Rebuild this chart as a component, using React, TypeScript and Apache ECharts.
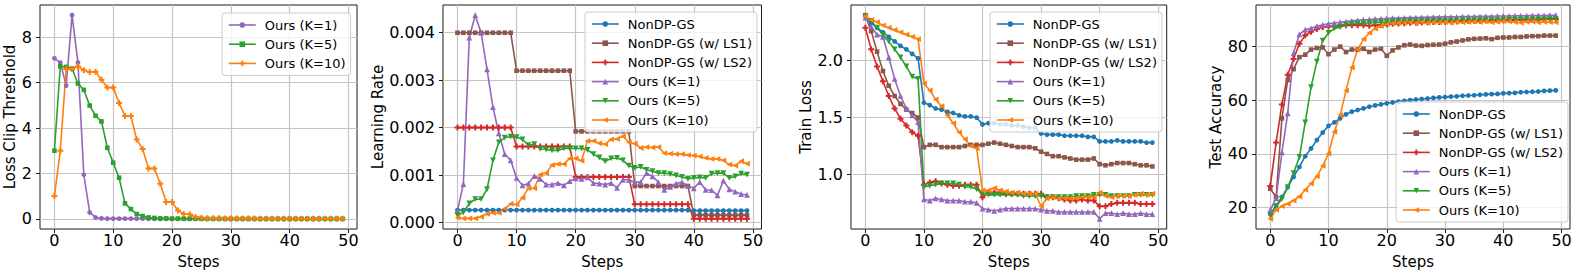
import { useEffect, useRef } from 'react';
import * as echarts from 'echarts';

// ---------- data ----------
const steps = Array.from({ length: 50 }, (_, i) => i);
const xTicks = [0, 10, 20, 30, 40, 50];

// Panel 1: Loss Clip Threshold
const p1K1 = [7.07, 6.88, 5.87, 8.97, 6.88, 1.94, 0.28, 0.06, 0.02, 0.01,
  0.01, 0.01, 0.01, 0.01, 0.01, 0.01, 0, 0, 0, 0,
  0, 0, 0, 0, 0, 0, 0, 0, 0, 0,
  0, 0, 0, 0, 0, 0, 0, 0, 0, 0,
  0, 0, 0, 0, 0, 0, 0, 0, 0, 0];
const p1K5 = [3.0, 6.72, 6.69, 6.62, 5.96, 5.68, 4.99, 4.54, 4.29, 3.13,
  2.47, 1.81, 0.68, 0.43, 0.21, 0.12, 0.06, 0.04, 0.02, 0.02,
  0.01, 0.01, 0.01, 0.01, 0.01, 0, 0, 0, 0, 0,
  0, 0, 0, 0, 0, 0, 0, 0, 0, 0,
  0, 0, 0, 0, 0, 0, 0, 0, 0, 0];
const p1K10 = [1.0, 3.0, 6.6, 6.6, 6.72, 6.54, 6.47, 6.48, 6.13, 5.78,
  5.78, 5.1, 4.53, 4.53, 3.49, 3.07, 2.22, 2.22, 1.54, 0.74,
  0.74, 0.37, 0.21, 0.2, 0.08, 0.05, 0.03, 0.02, 0.02, 0.01,
  0.01, 0.01, 0.01, 0.01, 0.01, 0, 0, 0, 0, 0,
  0, 0, 0, 0, 0, 0, 0, 0, 0, 0];
const p1YTicks = [0, 2, 4, 6, 8];

// Panel 2: Learning Rate
const p2Base = [0.00026, 0.00026, 0.00026, 0.00026, 0.00026, 0.00026, 0.00026, 0.00026, 0.00026, 0.00026,
  0.00026, 0.00026, 0.00026, 0.00026, 0.00026, 0.00026, 0.00026, 0.00026, 0.00026, 0.00026,
  0.00026, 0.00026, 0.00026, 0.00026, 0.00026, 0.00026, 0.00026, 0.00026, 0.00026, 0.00026,
  0.00026, 0.00026, 0.00026, 0.00026, 0.00026, 0.00026, 0.00026, 0.00026, 0.00026, 0.00026,
  0.00025, 0.00025, 0.00025, 0.00025, 0.00025, 0.00025, 0.00025, 0.00025, 0.00025, 0.00025];
const p2LS1 = [0.004, 0.004, 0.004, 0.004, 0.004, 0.004, 0.004, 0.004, 0.004, 0.004,
  0.0032, 0.0032, 0.0032, 0.0032, 0.0032, 0.0032, 0.0032, 0.0032, 0.0032, 0.0032,
  0.00192, 0.00192, 0.00192, 0.00192, 0.00192, 0.00192, 0.00192, 0.00192, 0.00192, 0.00192,
  0.000768, 0.000768, 0.000768, 0.000768, 0.000768, 0.000768, 0.000768, 0.000768, 0.000768, 0.000768,
  0.000154, 0.000154, 0.000154, 0.000154, 0.000154, 0.000154, 0.000154, 0.000154, 0.000154, 0.000154];
const p2LS2 = [0.002, 0.002, 0.002, 0.002, 0.002, 0.002, 0.002, 0.002, 0.002, 0.002,
  0.0016, 0.0016, 0.0016, 0.0016, 0.0016, 0.0016, 0.0016, 0.0016, 0.0016, 0.0016,
  0.00096, 0.00096, 0.00096, 0.00096, 0.00096, 0.00096, 0.00096, 0.00096, 0.00096, 0.00096,
  0.000384, 0.000384, 0.000384, 0.000384, 0.000384, 0.000384, 0.000384, 0.000384, 0.000384, 0.000384,
  0.000077, 0.000077, 0.000077, 0.000077, 0.000077, 0.000077, 0.000077, 0.000077, 0.000077, 0.000077];
const p2K1 = [0.00025, 0.00081, 0.0039, 0.00437, 0.004, 0.00323, 0.00243, 0.00188, 0.00144, 0.00131,
  0.00094, 0.00078, 0.00082, 0.00098, 0.00092, 0.0008, 0.0008, 0.00083, 0.00078, 0.00087,
  0.00093, 0.00092, 0.00095, 0.00083, 0.00082, 0.0008, 0.00083, 0.00073, 0.0009, 0.0009,
  0.00085, 0.00085, 0.00104, 0.00097, 0.00085, 0.00069, 0.00075, 0.00082, 0.00085, 0.00077,
  0.00072, 0.00085, 0.00069, 0.00068, 0.00057, 0.00088, 0.0007, 0.00065, 0.0006, 0.00058];
const p2K5 = [0.000155, 0.00021, 0.0004, 0.00049, 0.00049, 0.0007, 0.00131, 0.00169, 0.00179, 0.00181,
  0.0018, 0.00175, 0.00163, 0.00165, 0.00155, 0.00154, 0.00152, 0.00152, 0.00156, 0.00156,
  0.00156, 0.00156, 0.00153, 0.00144, 0.00137, 0.00129, 0.00135, 0.00136, 0.00131, 0.0012,
  0.00115, 0.00117, 0.00111, 0.00108, 0.00104, 0.00104, 0.00102, 0.00099, 0.00096, 0.00092,
  0.00094, 0.00095, 0.00094, 0.00103, 0.00104, 0.00104, 0.00094, 0.00097, 0.00103, 0.00101];
const p2K10 = [0.0001, 0.000085, 0.000085, 0.000085, 0.00012, 0.00018, 0.0002, 0.0002, 0.00029, 0.00039,
  0.00038, 0.00052, 0.00072, 0.00072, 0.00101, 0.00104, 0.00121, 0.00123, 0.00123, 0.00135,
  0.00135, 0.0013, 0.00172, 0.00172, 0.00167, 0.00165, 0.00175, 0.00176, 0.00182, 0.00169,
  0.00166, 0.00157, 0.00159, 0.00158, 0.00159, 0.00146, 0.00145, 0.00144, 0.00144, 0.00142,
  0.00141, 0.00139, 0.00136, 0.00134, 0.00134, 0.00131, 0.00122, 0.0012, 0.00129, 0.00124];
const p2YTicks = [0, 0.001, 0.002, 0.003, 0.004];

// Panel 3: Train Loss
const p3Base = [2.4, 2.33, 2.29, 2.25, 2.21, 2.17, 2.13, 2.1, 2.06, 2.02,
  1.63, 1.61, 1.58, 1.57, 1.55, 1.54, 1.52, 1.51, 1.51, 1.5,
  1.44, 1.45, 1.45, 1.44, 1.44, 1.43, 1.43, 1.42, 1.41, 1.41,
  1.36, 1.35, 1.35, 1.35, 1.34, 1.34, 1.34, 1.34, 1.33, 1.33,
  1.29, 1.29, 1.29, 1.3, 1.29, 1.29, 1.29, 1.29, 1.28, 1.28];
const p3LS1 = [2.4, 2.26, 2.08, 1.91, 1.78, 1.69, 1.62, 1.57, 1.54, 1.5,
  1.24, 1.26, 1.26, 1.24, 1.24, 1.24, 1.24, 1.25, 1.26, 1.26,
  1.26, 1.27, 1.28, 1.27, 1.26, 1.25, 1.24, 1.24, 1.24, 1.23,
  1.2, 1.18, 1.16, 1.16, 1.15, 1.14, 1.13, 1.13, 1.13, 1.14,
  1.09, 1.08, 1.09, 1.1, 1.1, 1.1, 1.09, 1.08, 1.08, 1.07];
const p3LS2 = [2.29, 2.1, 1.95, 1.82, 1.69, 1.58, 1.49, 1.43, 1.37, 1.34,
  0.91, 0.93, 0.94, 0.92, 0.91, 0.9, 0.9, 0.91, 0.91, 0.91,
  0.8, 0.84, 0.84, 0.84, 0.83, 0.83, 0.83, 0.83, 0.83, 0.83,
  0.83, 0.8, 0.8, 0.79, 0.78, 0.77, 0.77, 0.78, 0.77, 0.77,
  0.72, 0.72, 0.74, 0.75, 0.75, 0.75, 0.75, 0.74, 0.74, 0.74];
const p3K1 = [2.38, 2.3, 2.23, 2.21, 2.03, 1.84, 1.69, 1.58, 1.52, 1.46,
  0.78, 0.77, 0.79, 0.78, 0.77, 0.77, 0.77, 0.76, 0.76, 0.75,
  0.7, 0.69, 0.68, 0.69, 0.7, 0.7, 0.7, 0.7, 0.7, 0.7,
  0.69, 0.68, 0.68, 0.67, 0.67, 0.67, 0.67, 0.67, 0.67, 0.67,
  0.61, 0.66, 0.66, 0.65, 0.66, 0.65, 0.65, 0.66, 0.65, 0.65];
const p3K5 = [2.39, 2.35, 2.29, 2.23, 2.17, 2.1, 2.03, 1.95, 1.86, 1.84,
  0.89, 0.9, 0.91, 0.92, 0.92, 0.92, 0.91, 0.89, 0.89, 0.87,
  0.83, 0.82, 0.82, 0.82, 0.82, 0.82, 0.82, 0.81, 0.81, 0.81,
  0.81, 0.8, 0.8, 0.8, 0.8, 0.8, 0.81, 0.81, 0.81, 0.82,
  0.82, 0.82, 0.81, 0.81, 0.81, 0.81, 0.82, 0.82, 0.82, 0.82];
const p3K10 = [2.39, 2.36, 2.34, 2.31, 2.29, 2.27, 2.25, 2.23, 2.21, 2.19,
  1.8, 1.74, 1.66, 1.6, 1.52, 1.45, 1.37, 1.31, 1.25, 1.23,
  0.86, 0.86, 0.88, 0.86, 0.85, 0.84, 0.84, 0.83, 0.83, 0.83,
  0.72, 0.79, 0.8, 0.79, 0.79, 0.79, 0.79, 0.8, 0.8, 0.8,
  0.84, 0.81, 0.8, 0.81, 0.81, 0.81, 0.82, 0.83, 0.82, 0.83];
const p3YTicks = [1.0, 1.5, 2.0];

// Panel 4: Test Accuracy
const p4Base = [17.6, 20.7, 23.9, 27.6, 31.4, 35.1, 39.1, 42.0, 45.1, 47.9,
  50.4, 51.7, 53.2, 54.7, 55.7, 56.3, 56.9, 57.5, 58.0, 58.4,
  58.8, 59.1, 59.4, 59.7, 60.0, 60.2, 60.4, 60.6, 60.8, 61.0,
  61.1, 61.3, 61.4, 61.6, 61.7, 61.8, 62.0, 62.1, 62.2, 62.3,
  62.5, 62.6, 62.7, 62.9, 63.0, 63.1, 63.2, 63.4, 63.5, 63.6];
const p4LS1 = [27.0, 23.9, 53.2, 67.5, 71.5, 76.0, 76.9, 78.8, 79.4, 79.6,
  77.1, 78.8, 79.9, 77.9, 78.8, 78.8, 79.1, 77.9, 78.8, 79.1,
  76.5, 78.5, 79.6, 80.4, 80.7, 80.3, 80.2, 80.5, 80.6, 80.7,
  81.0, 81.5, 81.8, 82.2, 82.6, 82.8, 82.9, 83.0, 82.7, 83.2,
  83.3, 83.3, 83.5, 83.5, 83.7, 83.8, 83.8, 84.0, 84.0, 84.0];
const p4LS2 = [28.0, 44.2, 58.4, 69.4, 75.3, 81.0, 84.1, 85.4, 86.5, 87.1,
  87.4, 87.5, 87.7, 87.9, 87.9, 87.9, 87.9, 87.7, 87.9, 88.0,
  88.2, 88.4, 88.5, 88.6, 88.8, 88.8, 88.9, 89.0, 89.1, 89.1,
  89.2, 89.3, 89.3, 89.4, 89.4, 89.5, 89.5, 89.6, 89.6, 89.7,
  89.7, 89.8, 89.8, 89.9, 89.9, 90.0, 90.0, 90.1, 90.2, 90.2];
const p4K1 = [19.1, 23.5, 40.5, 55.1, 77.5, 84.5, 86.2, 86.7, 87.5, 88.0,
  88.4, 88.7, 89.0, 89.2, 89.5, 89.7, 89.9, 90.0, 90.2, 90.3,
  90.4, 90.5, 90.5, 90.6, 90.7, 90.7, 90.8, 90.8, 90.9, 90.9,
  91.0, 91.0, 91.0, 91.1, 91.1, 91.1, 91.2, 91.2, 91.2, 91.3,
  91.3, 91.3, 91.4, 91.4, 91.4, 91.5, 91.5, 91.5, 91.6, 91.6];
const p4K5 = [17.0, 20.4, 23.2, 27.6, 32.8, 38.8, 51.7, 64.8, 74.3, 82.1,
  85.0, 86.7, 87.2, 88.0, 88.4, 88.5, 88.6, 88.7, 88.8, 88.9,
  89.0, 89.1, 89.2, 89.3, 89.3, 89.4, 89.4, 89.5, 89.5, 89.5,
  89.6, 89.6, 89.6, 89.7, 89.7, 89.7, 89.8, 89.8, 89.8, 89.8,
  89.9, 89.9, 89.9, 89.9, 90.0, 90.0, 90.0, 90.0, 90.1, 90.1];
const p4K10 = [15.8, 19.1, 20.5, 21.4, 22.6, 24.1, 26.6, 28.9, 31.6, 35.5,
  40.1, 48.2, 54.4, 63.5, 72.1, 78.8, 82.7, 85.0, 86.6, 87.6,
  88.2, 88.5, 88.7, 88.8, 88.9, 88.6, 89.1, 88.8, 89.0, 88.9,
  89.0, 88.8, 89.1, 88.9, 89.0, 89.2, 89.0, 89.3, 88.9, 89.1,
  89.4, 89.3, 89.0, 88.8, 89.1, 89.2, 88.9, 89.1, 89.0, 88.9];
const p4YTicks = [20, 40, 60, 80];

// ---------- styling ----------
const FONT = "'DejaVu Sans'";
const C = {
  blue: '#1f77b4', orange: '#ff7f0e', green: '#2ca02c',
  red: '#d62728', purple: '#9467bd', brown: '#8c564b',
};
const PLUS = 'path://M-1,-3H1V-1H3V1H1V3H-1V1H-3V-1H-1Z';
const SYM = {
  circle: { symbol: 'circle', size: 4.8, rotate: 0 },
  square: { symbol: 'rect', size: 4.6, rotate: 0 },
  plus: { symbol: PLUS, size: 6, rotate: 0 },
  up: { symbol: 'triangle', size: 5.8, rotate: 0 },
  down: { symbol: 'triangle', size: 5.8, rotate: 180 },
  left: { symbol: 'triangle', size: 5.8, rotate: 90 },
};

const grids = [
  { left: 40, top: 5, width: 317, height: 224 },
  { left: 443, top: 5, width: 318.5, height: 224 },
  { left: 851, top: 5, width: 315.7, height: 224 },
  { left: 1256, top: 5, width: 314, height: 224 },
];

type Panel = {
  yName: string; yMin: number; yMax: number; yTicks: number[];
  fmt: (v: number) => string; nameGap: number;
  legend: { left: number; top: number };
  lines: { name: string; data: number[]; color: string; sym: keyof typeof SYM }[];
};

const panels: Panel[] = [
  {
    yName: 'Loss Clip Threshold', yMin: -0.4485, yMax: 9.4185, yTicks: p1YTicks,
    fmt: (v) => String(v), nameGap: 21, legend: { left: 222, top: 13 },
    lines: [
      { name: 'p1|Ours (K=1)', data: p1K1, color: C.purple, sym: 'circle' },
      { name: 'p1|Ours (K=5)', data: p1K5, color: C.green, sym: 'square' },
      { name: 'p1|Ours (K=10)', data: p1K10, color: C.orange, sym: 'plus' },
    ],
  },
  {
    yName: 'Learning Rate', yMin: -0.000138, yMax: 0.004585, yTicks: p2YTicks,
    fmt: (v) => v.toFixed(3), nameGap: 52, legend: { left: 585, top: 12 },
    lines: [
      { name: 'p2|NonDP-GS', data: p2Base, color: C.blue, sym: 'circle' },
      { name: 'p2|NonDP-GS (w/ LS1)', data: p2LS1, color: C.brown, sym: 'square' },
      { name: 'p2|NonDP-GS (w/ LS2)', data: p2LS2, color: C.red, sym: 'plus' },
      { name: 'p2|Ours (K=1)', data: p2K1, color: C.purple, sym: 'up' },
      { name: 'p2|Ours (K=5)', data: p2K5, color: C.green, sym: 'down' },
      { name: 'p2|Ours (K=10)', data: p2K10, color: C.orange, sym: 'left' },
    ],
  },
  {
    yName: 'Train Loss', yMin: 0.52, yMax: 2.49, yTicks: p3YTicks,
    fmt: (v) => v.toFixed(1), nameGap: 35, legend: { left: 990, top: 12 },
    lines: [
      { name: 'p3|NonDP-GS', data: p3Base, color: C.blue, sym: 'circle' },
      { name: 'p3|NonDP-GS (w/ LS1)', data: p3LS1, color: C.brown, sym: 'square' },
      { name: 'p3|NonDP-GS (w/ LS2)', data: p3LS2, color: C.red, sym: 'plus' },
      { name: 'p3|Ours (K=1)', data: p3K1, color: C.purple, sym: 'up' },
      { name: 'p3|Ours (K=5)', data: p3K5, color: C.green, sym: 'down' },
      { name: 'p3|Ours (K=10)', data: p3K10, color: C.orange, sym: 'left' },
    ],
  },
  {
    yName: 'Test Accuracy', yMin: 12.0, yMax: 95.4, yTicks: p4YTicks,
    fmt: (v) => String(v), nameGap: 28, legend: { left: 1396, top: 102 },
    lines: [
      { name: 'p4|NonDP-GS', data: p4Base, color: C.blue, sym: 'circle' },
      { name: 'p4|NonDP-GS (w/ LS1)', data: p4LS1, color: C.brown, sym: 'square' },
      { name: 'p4|NonDP-GS (w/ LS2)', data: p4LS2, color: C.red, sym: 'plus' },
      { name: 'p4|Ours (K=1)', data: p4K1, color: C.purple, sym: 'up' },
      { name: 'p4|Ours (K=5)', data: p4K5, color: C.green, sym: 'down' },
      { name: 'p4|Ours (K=10)', data: p4K10, color: C.orange, sym: 'left' },
    ],
  },
];

function buildOption() {
  const grid = grids.map((g) => ({
    ...g, show: true, borderColor: '#1a1a1a', borderWidth: 1, backgroundColor: 'transparent', containLabel: false,
  }));
  const splitLine = { show: true, lineStyle: { color: '#c4c4c4', width: 1.2 } };
  const xAxis = panels.map((_, i) => ({
    type: 'value', gridIndex: i, min: -2.45, max: 51.45,
    axisLine: { show: false, onZero: false },
    axisTick: { show: true, customValues: xTicks, length: 4, lineStyle: { color: '#1a1a1a', width: 1 } },
    axisLabel: { customValues: xTicks, fontSize: 16, color: '#000', margin: 3, fontFamily: FONT },
    splitLine,
    name: 'Steps', nameLocation: 'middle', nameGap: 25,
    nameTextStyle: { fontSize: 15, color: '#000', fontFamily: FONT },
  }));
  const yAxis = panels.map((p, i) => ({
    type: 'value', gridIndex: i, min: p.yMin, max: p.yMax,
    axisLine: { show: false, onZero: false },
    axisTick: { show: true, customValues: p.yTicks, length: 4, lineStyle: { color: '#1a1a1a', width: 1 } },
    axisLabel: { customValues: p.yTicks, fontSize: 16, color: '#000', margin: 8, fontFamily: FONT, formatter: p.fmt },
    splitLine,
    name: p.yName, nameLocation: 'middle', nameGap: p.nameGap,
    nameTextStyle: { fontSize: 15, color: '#000', fontFamily: FONT },
  }));
  const series: any[] = [];
  panels.forEach((p, i) => {
    p.lines.forEach((l) => {
      const s = SYM[l.sym];
      series.push({
        type: 'line', name: l.name, xAxisIndex: i, yAxisIndex: i,
        data: steps.map((x, k) => [x, l.data[k]]),
        symbol: s.symbol, symbolSize: s.size, symbolRotate: s.rotate,
        showSymbol: true,
        lineStyle: { color: l.color, width: 1.6 },
        itemStyle: { color: l.color, borderWidth: 0 },
        emphasis: { disabled: true },
        silent: true,
        clip: false,
      });
    });
  });
  const legend = panels.map((p) => ({
    orient: 'vertical',
    left: p.legend.left, top: p.legend.top,
    data: p.lines.map((l) => l.name),
    formatter: (name: string) => name.split('|')[1],
    selectedMode: false,
    itemWidth: 27, itemHeight: 7, itemGap: 6.2,
    iconRotate: 'inherit',
    lineStyle: { width: 1.6 },
    textStyle: { fontSize: 13, color: '#000', fontFamily: FONT, padding: [0, 0, 0, 4] },
    padding: [5.5, 5, 5.5, 6],
    backgroundColor: 'rgba(255,255,255,0.8)',
    borderColor: '#cccccc', borderWidth: 1, borderRadius: 3,
  }));
  return {
    animation: false,
    backgroundColor: '#ffffff',
    textStyle: { fontFamily: FONT },
    grid, xAxis, yAxis, series, legend,
  };
}

export default function App() {
  const ref = useRef<HTMLDivElement>(null);
  useEffect(() => {
    if (!ref.current) return;
    const chart = echarts.init(ref.current, null, { renderer: 'svg' });
    chart.setOption(buildOption() as any);
    return () => chart.dispose();
  }, []);
  return (
    <div
      ref={ref}
      style={{ position: 'absolute', left: 0, top: 0, width: 1577, height: 274, background: '#fff' }}
    />
  );
}
